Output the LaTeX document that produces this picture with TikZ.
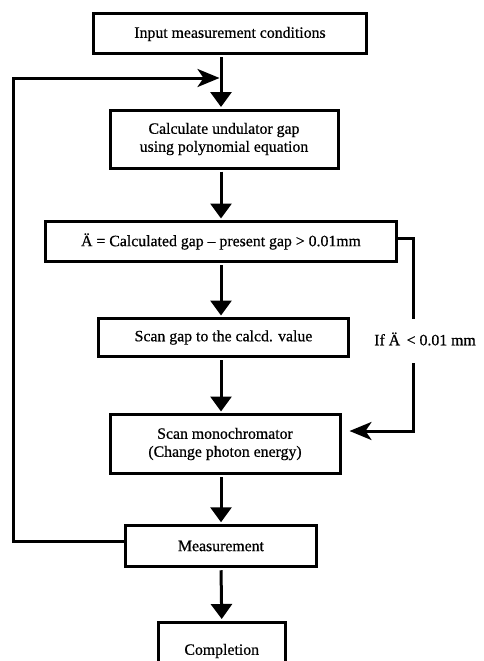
\documentclass[tikz,border=0pt]{standalone}
\usepackage{fontspec}
\setmainfont{Liberation Serif}[FakeBold=0.6]
\usetikzlibrary{arrows.meta}

\begin{document}
\begin{tikzpicture}[x=1pt, y=-1pt, line width=3pt,
   box/.style={rectangle, draw, align=center, inner sep=0pt, font=\fontsize{15.8}{18}\selectfont},
   flow/.style={-{Triangle[length=15pt,width=21pt]}, shorten <=2pt, shorten >=1.5pt},
   back/.style={-{Stealth[length=22pt,width=18pt,inset=6pt]}}]
   \useasboundingbox (0,0) rectangle (483,661);
   \clip (0,0) rectangle (483,661);

   \node [box, minimum width=273pt, minimum height=40pt] (input) at (230,34) {Input measurement conditions};
   \node [box, minimum width=228pt, minimum height=58pt] (calc) at (224,139) {Calculate undulator gap\\using polynomial equation};
   \node [box, minimum width=351pt, minimum height=40pt] (diff) at (221,241.5) {Ä = Calculated gap – present gap > 0.01mm};
   \node [box, minimum width=250pt, minimum height=38pt] (scan) at (223.5,337.5) {Scan gap to the calcd. value};
   \node [box, minimum width=230pt, minimum height=59pt] (mono) at (225,444) {Scan monochromator\\(Change photon energy)};
   \node [box, minimum width=191pt, minimum height=41.5pt] (meas) at (221,546) {Measurement};
   \node [box, minimum width=126.5pt, minimum height=58pt] (done) at (221.75,651) {Completion};
   \node [font=\fontsize{15.8}{18}\selectfont] (cond) at (425,339) {If Ä\ \,< 0.01 mm};

   \coordinate (loop) at (13.3,78);
   \coordinate (join) at (221,78);
   \coordinate (up) at (413.3,319);
   \coordinate (down) at (413.3,363);
   \coordinate (turn) at (413.3,431);

   % main flow
   \draw [flow] (input.south -| meas.north) -- (calc.north -| meas.north);
   \draw [flow] (calc.south -| meas.north) -- (diff.north -| meas.north);
   \draw [flow] (diff.south -| meas.north) -- (scan.north -| meas.north);
   \draw [flow] (scan.south -| meas.north) -- (mono.north -| meas.north);
   \draw [flow] (mono.south -| meas.north) -- (meas.north);
   \draw [flow] (meas.south) -- (done.north);

   % loop back and skip
   \draw [back, shorten >=1.5pt] ([yshift=5pt]meas.west) -| (loop) -- (join);
   \draw ([yshift=3.5pt]diff.east) -| (up);
   \draw [back, shorten >=8pt] (down) -- (turn) -- (mono.east |- turn);
\end{tikzpicture}
\end{document}
